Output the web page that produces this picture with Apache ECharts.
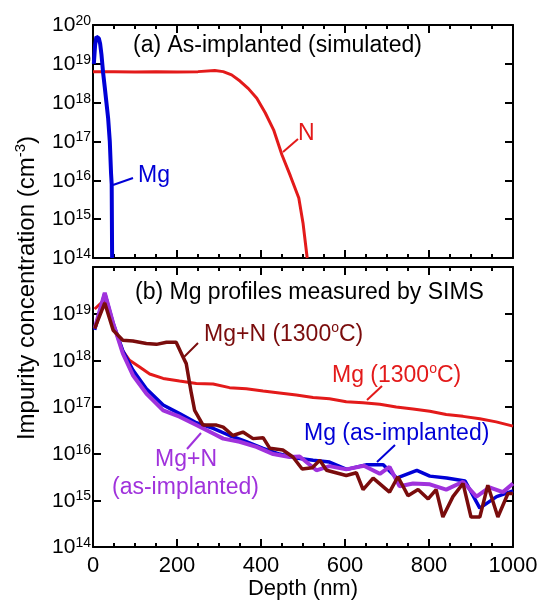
<!DOCTYPE html>
<html>
<head>
<meta charset="utf-8">
<script src="https://cdn.jsdelivr.net/npm/echarts@6.0.0/dist/echarts.min.js"></script>
<style>
  html, body { margin: 0; padding: 0; background: #fff; }
  #main { width: 542px; height: 604px; }
</style>
</head>
<body>
<div id="main"></div>
<script>
// (a) simulated as-implanted profiles
const simMgDepth = [2, 5, 8, 11, 14, 17, 20, 24, 28, 32, 36, 40, 43, 44.5, 45.5];
const simMgConc = [1e19, 3e19, 5e19, 5.5e19, 4.5e19, 3.3e19, 1.8e19, 6e18, 2.5e18, 1e18, 4e17, 1e17, 1.5e16, 8e15, 1e14];
const simNDepth = [0, 50, 100, 150, 200, 250, 290, 310, 330, 350, 370, 390, 410, 430, 450, 470, 490, 500, 510];
const simNConc = [6.3e18, 6.3e18, 6.2e18, 6.3e18, 6.2e18, 6.3e18, 6.7e18, 6.3e18, 5.2e18, 3.6e18, 2.3e18, 1.3e18, 5.5e17, 2e17, 4.5e16, 1.3e16, 3.5e15, 8e14, 1e14];

// (b) SIMS profiles
const mgAnnDepth = [4, 28, 48, 71, 87, 111, 135, 167, 206, 246, 286, 325, 365, 405, 444, 484, 524, 563, 603, 643, 683, 722, 762, 802, 841, 881, 921, 960, 1000];
const mgAnnConc = [1.26e19, 2e19, 5.6e18, 1.6e18, 1e18, 7.2e17, 5.1e17, 4.1e17, 3.6e17, 3.2e17, 3.1e17, 2.6e17, 2.45e17, 2.2e17, 2e17, 1.8e17, 1.6e17, 1.5e17, 1.3e17, 1.23e17, 1.15e17, 1e17, 9.1e16, 8.1e16, 6.9e16, 6.3e16, 5.6e16, 4.8e16, 3.9e16];

const mgImpDepth = [4, 28, 48, 71, 95, 127, 167, 206, 246, 286, 325, 365, 405, 444, 484, 524, 563, 604, 652, 691, 723, 771, 802, 842, 886, 921, 961, 1000];
const mgImpConc = [4.5e18, 2.7e19, 6.2e18, 1.6e18, 6.2e17, 2.45e17, 1.1e17, 7.2e16, 4.6e16, 3.5e16, 2.45e16, 1.8e16, 1.3e16, 9.8e15, 8.1e15, 7.2e15, 6.6e15, 4.6e15, 5.8e15, 5.8e15, 3e15, 4.4e15, 3.3e15, 3e15, 2.6e15, 6.8e14, 1.2e15, 1.6e15];

const mgNImpDepth = [4, 28, 48, 71, 95, 127, 167, 206, 246, 286, 310, 349, 389, 429, 468, 492, 532, 563, 603, 645, 683, 706, 730, 762, 802, 841, 881, 913, 944, 976, 1000];
const mgNImpConc = [4.8e18, 2.8e19, 6.2e18, 1.4e18, 4.8e17, 1.95e17, 8.5e16, 6.2e16, 4.1e16, 2.7e16, 2.1e16, 1.8e16, 1.4e16, 9.8e15, 8.5e15, 8.7e15, 4.4e15, 5.4e15, 4.6e15, 5.5e15, 3.7e15, 5.2e15, 2e15, 2.3e15, 2.2e15, 1.7e15, 2.5e15, 1.2e15, 1.9e15, 1.5e15, 2.3e15];

const mgNAnnDepth = [4, 28, 48, 71, 95, 127, 151, 175, 198, 214, 222, 234, 242, 262, 294, 310, 333, 357, 381, 405, 421, 452, 476, 498, 522, 540, 556, 603, 627, 643, 667, 706, 726, 750, 774, 798, 817, 833, 857, 881, 900, 921, 940, 964, 988, 1000];
const mgNAnnConc = [4.8e18, 1.7e19, 4.4e18, 2.7e18, 2.6e18, 2.3e18, 2.2e18, 2.45e18, 2.45e18, 1.2e18, 8.5e17, 2e17, 8.5e16, 4.1e16, 4.1e16, 3.7e16, 2.45e16, 2.9e16, 2.1e16, 2.2e16, 1.3e16, 1.2e16, 8.5e15, 4.7e15, 5e15, 7.2e15, 4.4e15, 3.4e15, 3.9e15, 1.7e15, 3e15, 1.5e15, 3.2e15, 1.26e15, 1.7e15, 1.07e15, 1.7e15, 4.4e14, 1.2e15, 2.3e15, 4.4e14, 4.4e14, 2.1e15, 4.4e14, 1.4e15, 1.4e15];

const xTicks = [0, 200, 400, 600, 800, 1000];

const FONT = 'Liberation Sans, Arial, Helvetica, sans-serif';
const BLUE = '#0000d6';
const RED = '#e31a1a';
const PURPLE = '#a032dc';
const DARKRED = '#7a0c0c';

function pairs(xs, ys) {
  return xs.map((x, i) => [x, ys[i]]);
}

const blackLine = { color: '#000', width: 2 };

function xAxisFor(gridIndex, position, withLabels) {
  return {
    type: 'value', gridIndex: gridIndex, position: position,
    min: xTicks[0], max: xTicks[xTicks.length - 1], interval: 200,
    axisLine: { show: true, onZero: false, lineStyle: blackLine },
    axisTick: { show: true, inside: true, length: 8, lineStyle: blackLine },
    minorTick: { show: true, splitNumber: 4, length: 4, lineStyle: blackLine },
    splitLine: { show: false },
    minorSplitLine: { show: false },
    axisLabel: {
      show: withLabels, margin: 8, color: '#000', fontSize: 22, fontFamily: FONT,
      formatter: function (v) { return String(v); }
    }
  };
}

function yAxisFor(gridIndex, position, withLabels, hideTop) {
  return {
    type: 'log', logBase: 10, gridIndex: gridIndex, position: position,
    min: 1e14, max: 1e20, splitNumber: 6,
    axisLine: { show: true, onZero: false, lineStyle: blackLine },
    axisTick: { show: true, inside: true, length: 8, lineStyle: blackLine },
    splitLine: { show: false },
    axisLabel: {
      show: withLabels, margin: 2,
      formatter: function (v) {
        const e = Math.round(Math.log10(v));
        if (hideTop && e === 20) return '';
        return '{t|10}{s|' + e + '}';
      },
      rich: {
        t: { fontSize: 21, fontFamily: FONT, color: '#000', lineHeight: 22, verticalAlign: 'bottom' },
        s: { fontSize: 14, fontFamily: FONT, color: '#000', lineHeight: 14, verticalAlign: 'top' }
      }
    }
  };
}

function note(x, y, text, color, align) {
  return {
    type: 'text', x: x, y: y, z: 100,
    style: {
      text: text, fill: color, align: align || 'left', verticalAlign: 'middle',
      rich: {
        t: { fontSize: 23, fontFamily: FONT, fill: color, lineHeight: 25, verticalAlign: 'bottom' },
        s: { fontSize: 14, fontFamily: FONT, fill: color, lineHeight: 14, verticalAlign: 'top' }
      }
    }
  };
}

function leader(x1, y1, x2, y2, color) {
  return {
    type: 'line', z: 100,
    shape: { x1: x1, y1: y1, x2: x2, y2: y2 },
    style: { stroke: color, lineWidth: 2 }
  };
}

function line(name, xi, yi, data, color, width) {
  return {
    name: name, type: 'line', xAxisIndex: xi, yAxisIndex: yi,
    data: data, showSymbol: false, symbol: 'none', animation: false,
    lineStyle: { color: color, width: width },
    clip: true
  };
}

const chart = echarts.init(document.getElementById('main'), null, { renderer: 'canvas' });

const option = {
  backgroundColor: '#fff',
  animation: false,
  grid: [
    { left: 93, top: 25, width: 420, height: 233 },
    { left: 93, top: 267, width: 420, height: 280 }
  ],
  xAxis: [
    xAxisFor(0, 'bottom', false),
    xAxisFor(0, 'top', false),
    Object.assign(xAxisFor(1, 'bottom', true), {
      name: 'Depth (nm)', nameLocation: 'middle', nameGap: 31,
      nameTextStyle: { color: '#000', fontSize: 22, fontFamily: FONT }
    }),
    xAxisFor(1, 'top', false)
  ],
  yAxis: [
    yAxisFor(0, 'left', true, false),
    yAxisFor(0, 'right', false, false),
    yAxisFor(1, 'left', true, true),
    yAxisFor(1, 'right', false, false)
  ],
  series: [
    line('N (sim)', 0, 0, pairs(simNDepth, simNConc), RED, 3),
    line('Mg (sim)', 0, 0, pairs(simMgDepth, simMgConc), BLUE, 4),
    line('Mg (1300oC)', 2, 2, pairs(mgAnnDepth, mgAnnConc), RED, 3),
    line('Mg (as-implanted)', 2, 2, pairs(mgImpDepth, mgImpConc), BLUE, 3.5),
    line('Mg+N (as-implanted)', 2, 2, pairs(mgNImpDepth, mgNImpConc), PURPLE, 4),
    line('Mg+N (1300oC)', 2, 2, pairs(mgNAnnDepth, mgNAnnConc), DARKRED, 3.5)
  ],
  graphic: [
    {
      type: 'text', x: 26, y: 288, rotation: Math.PI / 2, z: 100,
      style: {
        text: '{t|Impurity concentration (cm}{s|-3}{t|)}',
        align: 'center', verticalAlign: 'middle', fill: '#000',
        rich: {
          t: { fontSize: 24, fontFamily: FONT, fill: '#000', lineHeight: 26, verticalAlign: 'bottom' },
          s: { fontSize: 15, fontFamily: FONT, fill: '#000', lineHeight: 15, verticalAlign: 'top' }
        }
      }
    },
    note(133, 45, '{t|(a) As-implanted (simulated)}', '#000'),
    note(298, 133, '{t|N}', RED),
    leader(283, 152, 298, 139, RED),
    note(138, 175, '{t|Mg}', BLUE),
    leader(113, 185, 133, 178, BLUE),

    note(135, 292, '{t|(b) Mg profiles measured by SIMS}', '#000'),
    note(204, 334, '{t|Mg+N (1300}{s|o}{t|C)}', DARKRED),
    leader(183, 358, 198, 343, DARKRED),
    note(332, 375, '{t|Mg (1300}{s|o}{t|C)}', RED),
    leader(367, 400, 382, 386, RED),
    note(304, 433, '{t|Mg (as-implanted)}', BLUE),
    leader(377, 462, 395, 445, BLUE),
    note(155, 459, '{t|Mg+N}', PURPLE),
    note(112, 487, '{t|(as-implanted)}', PURPLE),
    leader(187, 449, 201, 433, PURPLE)
  ]
};

chart.setOption(option);
</script>
</body>
</html>
